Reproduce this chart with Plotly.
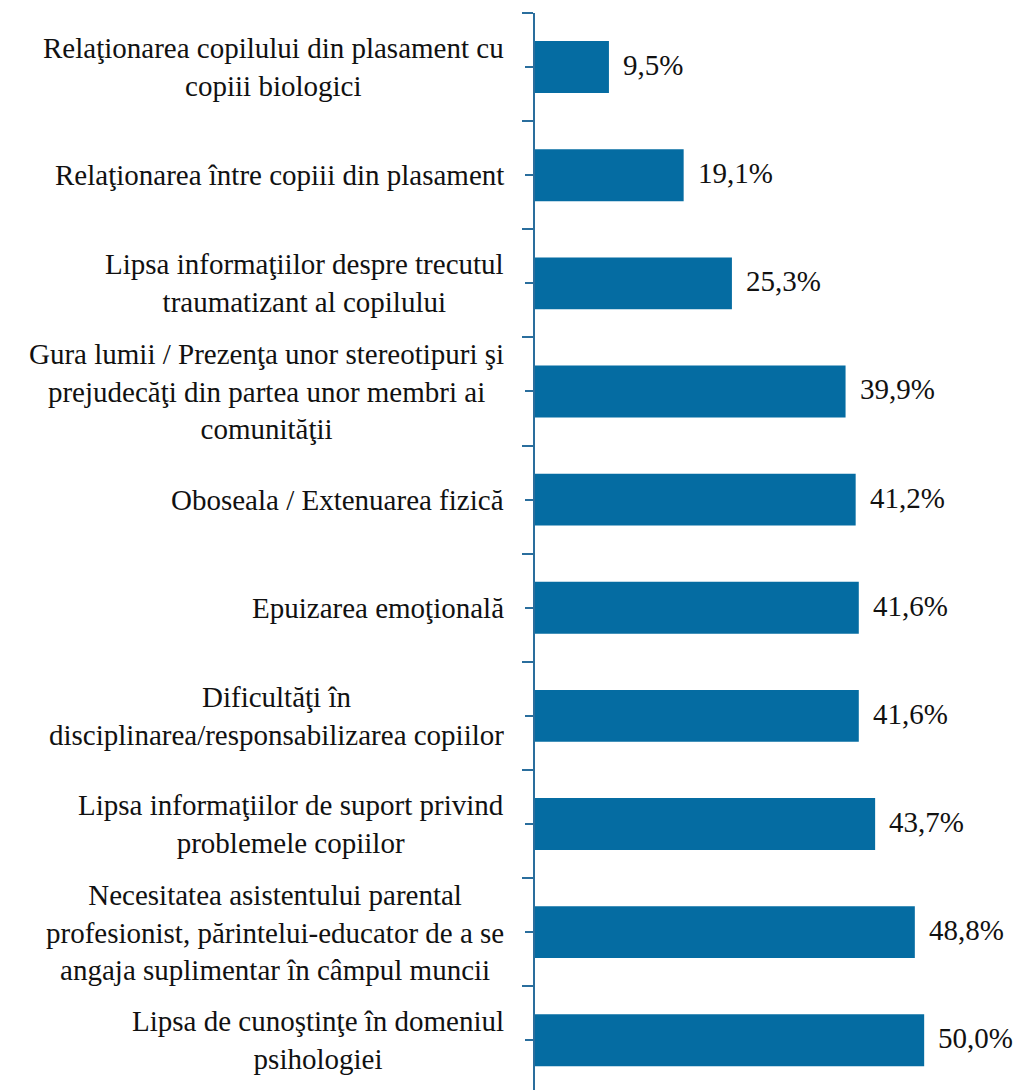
import plotly.graph_objects as go

# Difficulties reported, share of respondents (%)
categories = [
    "Relaţionarea copilului din plasament cu<br>copiii biologici",
    "Relaţionarea între copiii din plasament",
    "Lipsa informaţiilor despre trecutul<br>traumatizant al copilului",
    "Gura lumii / Prezenţa unor stereotipuri şi<br>prejudecăţi din partea unor membri ai<br>comunităţii",
    "Oboseala / Extenuarea fizică",
    "Epuizarea emoţională",
    "Dificultăţi în<br>disciplinarea/responsabilizarea copiilor",
    "Lipsa informaţiilor de suport privind<br>problemele copiilor",
    "Necesitatea asistentului parental<br>profesionist, părintelui-educator de a se<br>angaja suplimentar în câmpul muncii",
    "Lipsa de cunoştinţe în domeniul<br>psihologiei",
]
values = [9.5, 19.1, 25.3, 39.9, 41.2, 41.6, 41.6, 43.7, 48.8, 50.0]

BAR = "#056ca2"
AXIS = "#2a6e9d"
FONT = "Liberation Serif"
positions = list(range(len(categories)))

fig = go.Figure(
    go.Bar(
        x=values,
        y=positions,
        orientation="h",
        width=0.48,
        marker=dict(color=BAR, line=dict(width=0)),
        hoverinfo="skip",
    )
)

annotations = []
for pos, cat, val in zip(positions, categories, values):
    # category label, lines centred, block right-aligned next to the axis
    annotations.append(dict(
        x=0, xref="paper", y=pos, yref="y",
        text=cat, showarrow=False,
        xanchor="right", yanchor="middle", align="center",
        xshift=-29,
        font=dict(family=FONT, size=29, color="#111111"),
    ))
    # value label at the end of each bar
    annotations.append(dict(
        x=val, xref="x", y=pos, yref="y",
        text=f"{val:.1f}".replace(".", ",") + "%",
        showarrow=False, xanchor="left", yanchor="middle",
        xshift=12, yshift=2,
        font=dict(family=FONT, size=29, color="#111111"),
    ))

fig.update_layout(
    width=1014, height=1090,
    margin=dict(l=535, r=12, t=13, b=0),
    paper_bgcolor="white", plot_bgcolor="white",
    showlegend=False,
    annotations=annotations,
    xaxis=dict(range=[0, 60], visible=False, fixedrange=True),
    yaxis=dict(
        range=[9.46, -0.5],
        showline=True, linecolor=AXIS, linewidth=2,
        showgrid=False, zeroline=False,
        tickvals=positions, ticktext=[""] * len(positions),
        ticks="outside", ticklen=8, tickcolor=AXIS, tickwidth=2,
        minor=dict(tick0=0.5, dtick=1, ticks="outside", ticklen=11,
                   tickcolor=AXIS, tickwidth=2, showgrid=False),
        fixedrange=True,
    ),
)

fig.write_html("out.html")
